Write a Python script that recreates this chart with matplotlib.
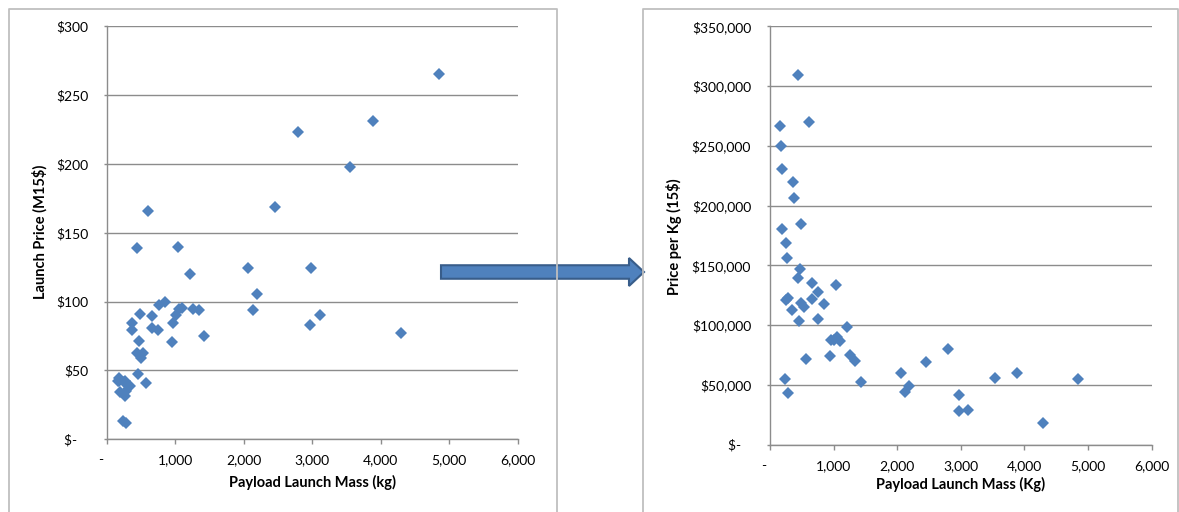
import matplotlib
matplotlib.use("Agg")
import matplotlib.pyplot as plt
from matplotlib.patches import FancyArrow
from matplotlib.ticker import FuncFormatter, MultipleLocator

plt.rcParams['font.family'] = ['Lato', 'DejaVu Sans']

# payload launch mass (kg), one entry per launch
mass_kg = [4850, 3880, 2795, 3545, 2450, 607, 442, 1040, 2062, 2974,
           1212, 2188, 2128, 3118, 2966, 4300, 1425, 845, 757, 1050,
           1100, 1010, 962, 1265, 1345, 487, 655, 370, 375, 655,
           752, 952, 477, 447, 535, 493, 453, 565, 159, 177,
           183, 189, 248, 272, 283, 260, 343, 236, 283]

# launch price, millions of 2015 dollars (left chart)
launch_price_m = [265.5, 231.5, 223.0, 198.0, 169.0, 165.5, 138.7, 139.7, 124.2, 124.2,
                  120.1, 105.8, 93.9, 90.5, 82.8, 77.0, 75.0, 99.4, 97.5, 95.0,
                  95.5, 90.0, 84.3, 94.7, 94.2, 91.2, 89.6, 84.5, 79.2, 80.8,
                  79.4, 71.0, 71.3, 62.8, 62.5, 58.8, 47.5, 41.2, 42.4, 44.3,
                  42.2, 34.0, 41.8, 42.4, 34.8, 31.5, 38.7, 13.0, 12.2]

# price per kg, 2015 dollars (right chart)
price_per_kg = [54900, 59700, 80000, 56100, 69200, 269700, 309300, 133500, 60000, 41600,
                98700, 49100, 44100, 29000, 28200, 18100, 52300, 117400, 127400, 90000,
                86500, 88000, 87200, 74700, 70000, 185000, 135300, 220100, 206400, 121600,
                105200, 74200, 147300, 139400, 114900, 118900, 103600, 72000, 266900, 250200,
                230700, 180200, 168500, 155900, 123000, 121000, 112700, 54900, 43200]

W, H = 1179, 512
BLUE = '#4F81BD'
GRID = '#8C8C8C'


def px_rect(x0, x1, y_top, y_bot):
    return [x0 / W, 1 - y_bot / H, (x1 - x0) / W, (y_bot - y_top) / H]


def money(v, pos):
    if v == 0:
        return '$-   '
    return '${:,.0f}'.format(v)


def mass_fmt(v, pos):
    if v == 0:
        return '-   '
    return '{:,.0f}'.format(v)


def style_axes(ax, ymax, ystep):
    ax.set_xlim(0, 6000)
    ax.set_ylim(0, ymax)
    ax.xaxis.set_major_locator(MultipleLocator(1000))
    ax.yaxis.set_major_locator(MultipleLocator(ystep))
    ax.xaxis.set_major_formatter(FuncFormatter(mass_fmt))
    ax.yaxis.set_major_formatter(FuncFormatter(money))
    ax.grid(axis='y', color=GRID, linewidth=1.0)
    ax.set_axisbelow(True)
    for side in ['top', 'right']:
        ax.spines[side].set_visible(False)
    for side in ['left', 'bottom']:
        ax.spines[side].set_color(GRID)
        ax.spines[side].set_linewidth(1.0)
    ax.tick_params(axis='both', colors=GRID, labelcolor='black', labelsize=10,
                   direction='out', width=1.0)
    ax.tick_params(axis='x', length=3.5, pad=7.3)
    ax.tick_params(axis='y', length=2.5, pad=11)
    ax.patch.set_alpha(0)


fig = plt.figure(figsize=(W / 100, H / 100), dpi=100)

# chart borders and arrow drawn in pixel coordinates
overlay = fig.add_axes([0, 0, 1, 1], zorder=5)
overlay.set_xlim(0, W)
overlay.set_ylim(H, 0)
overlay.axis('off')
border = dict(color='#BFBFBF', linewidth=1.3)
overlay.plot([8.5, 8.5, 557, 557], [520, 9, 9, 520], **border)
overlay.plot([643, 643, 1177.5, 1177.5], [520, 9, 9, 520], **border)

ax1 = fig.add_axes(px_rect(106.8, 517.8, 26.3, 439.3))
style_axes(ax1, 300, 50)
ax1.plot(mass_kg, launch_price_m, 'D', color=BLUE, markersize=6.4, markeredgewidth=0)
ax1.set_xlabel('Payload Launch Mass (kg)', fontsize=10.5, fontweight='bold')
ax1.xaxis.set_label_coords(0.5, -0.086)
ax1.set_ylabel('Launch Price (M15$)', fontsize=10.5, fontweight='bold')
ax1.yaxis.set_label_coords(-0.145, 0.503)

ax2 = fig.add_axes(px_rect(769.9, 1151.6, 26.3, 444.7))
style_axes(ax2, 350000, 50000)
ax2.plot(mass_kg, price_per_kg, 'D', color=BLUE, markersize=6.4, markeredgewidth=0)
ax2.set_xlabel('Payload Launch Mass (Kg)', fontsize=10.5, fontweight='bold')
ax2.xaxis.set_label_coords(0.5, -0.076)
ax2.set_ylabel('Price per Kg (15$)', fontsize=10.5, fontweight='bold')
ax2.yaxis.set_label_coords(-0.229, 0.497)

arrow = FancyArrow(441, 272, 203, 0, width=13.5, head_width=28, head_length=15,
                   length_includes_head=True, facecolor=BLUE, edgecolor='#385D8A',
                   linewidth=1.5)
overlay.add_patch(arrow)

fig.savefig('out.png', dpi=100)
